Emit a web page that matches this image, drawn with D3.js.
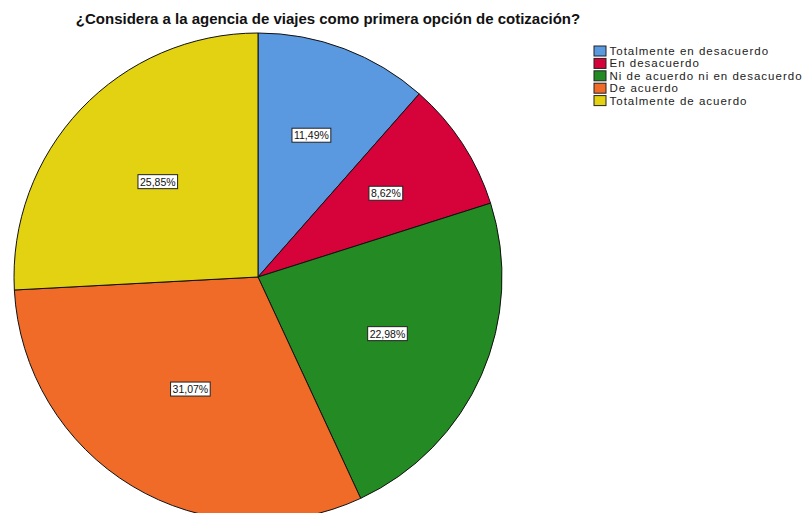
<!DOCTYPE html>
<html>
<head>
<meta charset="utf-8">
<script src="https://cdn.jsdelivr.net/npm/d3@7"></script>
<style>
  html, body { margin: 0; padding: 0; background: #fff; }
  svg { display: block; }
</style>
</head>
<body>
<svg id="chart" width="806" height="513"></svg>
<script>
// Survey answers and their share of responses (%)
const categories = [
  "Totalmente en desacuerdo",
  "En desacuerdo",
  "Ni de acuerdo ni en desacuerdo",
  "De acuerdo",
  "Totalmente de acuerdo"
];
const percentages = [11.49, 8.62, 22.98, 31.07, 25.85];
const colors = ["#5a98e0", "#d6033a", "#248a24", "#f06a28", "#e2d212"];
const title = "¿Considera a la agencia de viajes como primera opción de cotización?";

const svg = d3.select("#chart");
const cx = 258, cy = 277, radius = 244;

const color = d3.scaleOrdinal().domain(categories).range(colors);

const pie = d3.pie().sort(null).value(d => d.value);
const arcs = pie(categories.map((c, i) => ({ name: c, value: percentages[i] })));
const arc = d3.arc().innerRadius(0).outerRadius(radius);

const g = svg.append("g").attr("transform", `translate(${cx},${cy})`);

g.selectAll("path.slice")
  .data(arcs)
  .join("path")
  .attr("class", "slice")
  .attr("d", arc)
  .attr("fill", d => color(d.data.name))
  .attr("stroke", "#111")
  .attr("stroke-width", 1);

// Value labels sit near each sector's area centroid
const fmt = v => v.toFixed(2).replace(".", ",") + "%";
const labels = g.selectAll("g.lbl")
  .data(arcs)
  .join("g")
  .attr("class", "lbl")
  .attr("transform", d => {
    const a = d.endAngle - d.startAngle;
    const mid = (d.startAngle + d.endAngle) / 2;
    const dist = (4 * radius * Math.sin(a / 2)) / (3 * a) * 0.95;
    return `translate(${dist * Math.sin(mid)},${-dist * Math.cos(mid)})`;
  });

labels.each(function(d) {
  const sel = d3.select(this);
  const t = sel.append("text")
    .attr("text-anchor", "middle")
    .attr("dy", "0.35em")
    .attr("font-family", "Liberation Sans, Arial, sans-serif")
    .attr("font-size", 10.5)
    .attr("fill", "#111")
    .text(fmt(d.data.value));
  const bb = t.node().getBBox();
  sel.insert("rect", "text")
    .attr("x", bb.x - 2)
    .attr("y", bb.y - 1)
    .attr("width", bb.width + 4)
    .attr("height", bb.height + 2)
    .attr("fill", "#fff")
    .attr("stroke", "#222")
    .attr("stroke-width", 1);
});

svg.append("text")
  .attr("x", 328)
  .attr("y", 24)
  .attr("text-anchor", "middle")
  .attr("font-family", "Liberation Sans, Arial, sans-serif")
  .attr("font-weight", "bold")
  .attr("font-size", 15)
  .attr("fill", "#111")
  .text(title);

// Legend
const legend = svg.append("g").attr("transform", "translate(594,46)");
const item = legend.selectAll("g")
  .data(categories)
  .join("g")
  .attr("transform", (d, i) => `translate(0,${i * 12.4})`);
item.append("rect")
  .attr("width", 12)
  .attr("height", 10)
  .attr("fill", d => color(d))
  .attr("stroke", "#222")
  .attr("stroke-width", 1);
item.append("text")
  .attr("x", 15.5)
  .attr("y", 5)
  .attr("dy", "0.35em")
  .attr("font-family", "Liberation Sans, Arial, sans-serif")
  .attr("font-size", 11.5)
  .attr("letter-spacing", 1.0)
  .attr("fill", "#222")
  .text(d => d);
</script>
</body>
</html>
